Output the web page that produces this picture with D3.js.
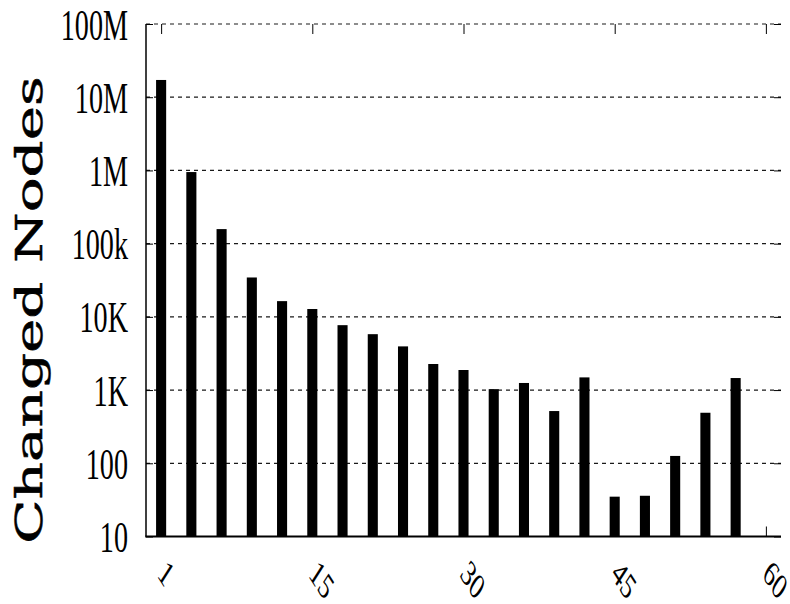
<!DOCTYPE html>
<html>
<head>
<meta charset="utf-8">
<script src="https://cdn.jsdelivr.net/npm/d3@7"></script>
<style>
  html, body { margin: 0; padding: 0; background: #fff; }
  svg { display: block; }
</style>
</head>
<body>
<svg id="chart" width="790" height="604"></svg>
<script>
// Bar positions on the x axis (one bar every three steps) and the node counts.
const binPositions = [0, 3, 6, 9, 12, 15, 18, 21, 24, 27, 30, 33, 36, 39, 42, 45, 48, 51, 54, 57];
const changedNodes = [17200000, 950000, 158000, 34500, 16400, 12800, 7700, 5800, 3950, 2270,
                      1880, 1030, 1250, 517, 1490, 35, 36, 126, 490, 1460];

// Axis ticks and their labels.
const xTickValues = [0, 15, 30, 45, 60];
const xTickLabels = ["1", "15", "30", "45", "60"];
const yTickValues = [10, 100, 1e3, 1e4, 1e5, 1e6, 1e7, 1e8];
const yTickLabels = ["10", "100", "1K", "10K", "100k", "1M", "10M", "100M"];

const yTitle = "Changed Nodes";

const plot = { left: 146, right: 781, top: 24, bottom: 536.5 };
const squeeze = 0.64;   // horizontal compression applied to all text

const svg = d3.select("#chart");

const x = d3.scaleLinear().domain([-1.5, 61.5]).range([plot.left, plot.right]);
const y = d3.scaleLog().domain([10, 1e8]).range([plot.bottom, plot.top]);

// Dashed horizontal grid at each decade above the baseline.
svg.append("g")
  .selectAll("line")
  .data(yTickValues.filter(v => v > 10))
  .join("line")
  .attr("x1", plot.left).attr("x2", plot.right)
  .attr("y1", d => y(d)).attr("y2", d => y(d))
  .attr("stroke", "#1a1a1a")
  .attr("stroke-width", 1.2)
  .attr("stroke-dasharray", "4,4");

// Bars.
const barW = x(1) - x(0);
svg.append("g")
  .selectAll("rect")
  .data(binPositions.map((p, i) => ({ p, v: changedNodes[i] })))
  .join("rect")
  .attr("x", d => x(d.p) - barW / 2)
  .attr("width", barW)
  .attr("y", d => y(d.v))
  .attr("height", d => plot.bottom - y(d.v))
  .attr("fill", "#000");

// Bottom axis: inward ticks, rotated labels.
const xAxis = svg.append("g")
  .attr("transform", `translate(0,${plot.bottom})`)
  .call(d3.axisBottom(x).tickValues(xTickValues)
        .tickFormat((d, i) => xTickLabels[i])
        .tickSizeInner(-10).tickSizeOuter(0));
xAxis.select(".domain").remove();
xAxis.selectAll(".tick line").attr("stroke", "#000").attr("stroke-width", 1);
xAxis.selectAll(".tick text")
  .attr("x", null).attr("y", null).attr("dy", null)
  .attr("text-anchor", "start")
  .attr("font-family", "'Liberation Serif', 'Times New Roman', serif")
  .attr("font-size", 37)
  .attr("fill", "#000")
  .attr("transform", `translate(-5,39) scale(${squeeze},1) rotate(45)`);

// Mirrored ticks along the top edge.
const xTop = svg.append("g")
  .attr("transform", `translate(0,${plot.top})`)
  .call(d3.axisTop(x).tickValues(xTickValues).tickFormat("")
        .tickSizeInner(-10).tickSizeOuter(0));
xTop.select(".domain").remove();
xTop.selectAll(".tick line").attr("stroke", "#000").attr("stroke-width", 1);

// Left axis with decade labels.
const yAxis = svg.append("g")
  .attr("transform", `translate(${plot.left},0)`)
  .call(d3.axisLeft(y).tickValues(yTickValues)
        .tickFormat((d, i) => yTickLabels[i])
        .tickSizeInner(-7).tickSizeOuter(0));
yAxis.select(".domain").remove();
yAxis.selectAll(".tick line").attr("stroke", "#000").attr("stroke-width", 1);
yAxis.selectAll(".tick text")
  .attr("x", null).attr("dy", null)
  .attr("text-anchor", "end")
  .attr("font-family", "'Liberation Serif', 'Times New Roman', serif")
  .attr("font-size", 44)
  .attr("fill", "#000")
  .attr("transform", `translate(-18,15) scale(${squeeze},1)`);

// Mirrored ticks on the right edge.
const yRight = svg.append("g")
  .attr("transform", `translate(${plot.right},0)`)
  .call(d3.axisRight(y).tickValues(yTickValues).tickFormat("")
        .tickSizeInner(-7).tickSizeOuter(0));
yRight.select(".domain").remove();
yRight.selectAll(".tick line").attr("stroke", "#000").attr("stroke-width", 1);

// Axis lines: left and bottom only.
svg.append("line")
  .attr("x1", plot.left).attr("x2", plot.left)
  .attr("y1", plot.top).attr("y2", plot.bottom)
  .attr("stroke", "#000").attr("stroke-width", 1.5);
svg.append("line")
  .attr("x1", plot.left - 0.75).attr("x2", plot.right)
  .attr("y1", plot.bottom).attr("y2", plot.bottom)
  .attr("stroke", "#000").attr("stroke-width", 2);

// Y axis title.
svg.append("text")
  .attr("transform", `translate(42,310) scale(${squeeze},1) rotate(-90)`)
  .attr("text-anchor", "middle")
  .attr("font-family", "'DejaVu Serif', serif")
  .attr("font-size", 58)
  .attr("fill", "#000")
  .attr("stroke", "#000")
  .attr("stroke-width", 0.8)
  .text(yTitle);
</script>
</body>
</html>
